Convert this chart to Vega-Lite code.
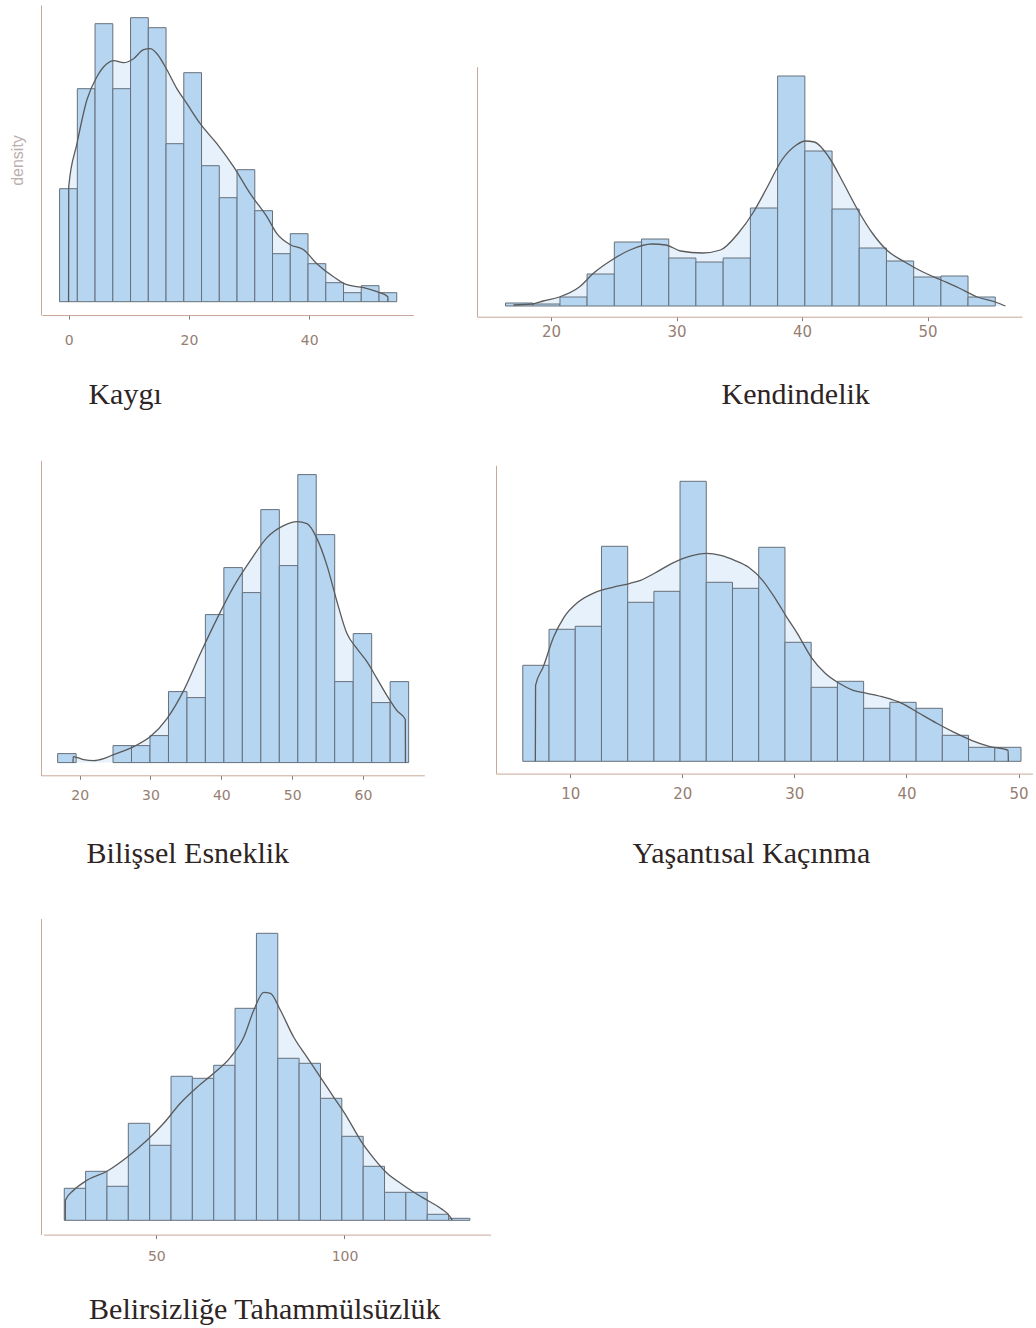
{
  "$schema": "https://vega.github.io/schema/vega-lite/v6.json",
  "background": "white",
  "padding": {"left": 9, "top": 5, "right": 0, "bottom": 0},
  "config": {
    "view": {"stroke": null},
    "axis": {"grid": false, "domainColor": "#c9a899", "domainWidth": 1, "tickColor": "#8c7b72", "tickSize": 4, "labelColor": "#967e72", "labelFont": "DejaVu Sans", "labelFontSize": 14, "labelFlush": false, "labelOverlap": false, "titleFont": "Liberation Serif", "titleFontSize": 30, "titleFontWeight": "normal", "titleColor": "#2e2424"}
  },
  "datasets": {
    "b1": [
      {"x": -1.5, "xe": 1.45, "d": 0.113}, {"x": 1.45, "xe": 4.4, "d": 0.213}, {"x": 4.4, "xe": 7.35, "d": 0.278}, {"x": 7.35, "xe": 10.3, "d": 0.213}, {"x": 10.3, "xe": 13.25, "d": 0.284}, {"x": 13.25, "xe": 16.2, "d": 0.274}, {"x": 16.2, "xe": 19.15, "d": 0.158}, {"x": 19.15, "xe": 22.1, "d": 0.229}, {"x": 22.1, "xe": 25.05, "d": 0.136}, {"x": 25.05, "xe": 28.0, "d": 0.104}, {"x": 28.0, "xe": 30.95, "d": 0.132}, {"x": 30.95, "xe": 33.9, "d": 0.091}, {"x": 33.9, "xe": 36.85, "d": 0.048}, {"x": 36.85, "xe": 39.8, "d": 0.068}, {"x": 39.8, "xe": 42.75, "d": 0.038}, {"x": 42.75, "xe": 45.7, "d": 0.019}, {"x": 45.7, "xe": 48.65, "d": 0.009}, {"x": 48.65, "xe": 51.6, "d": 0.016}, {"x": 51.6, "xe": 54.55, "d": 0.009}
    ],
    "c1": [
      {"x": 0, "d": 0}, {"x": 0.02, "d": 0.115}, {"x": 1.39, "d": 0.158}, {"x": 3.05, "d": 0.202}, {"x": 4.71, "d": 0.225}, {"x": 6.37, "d": 0.238}, {"x": 7.48, "d": 0.241}, {"x": 9.14, "d": 0.239}, {"x": 10.8, "d": 0.243}, {"x": 12.47, "d": 0.252}, {"x": 13.57, "d": 0.253}, {"x": 14.68, "d": 0.248}, {"x": 16.34, "d": 0.232}, {"x": 18.0, "d": 0.213}, {"x": 19.67, "d": 0.198}, {"x": 21.88, "d": 0.178}, {"x": 24.65, "d": 0.158}, {"x": 27.42, "d": 0.135}, {"x": 30.19, "d": 0.108}, {"x": 32.96, "d": 0.085}, {"x": 34.63, "d": 0.068}, {"x": 36.84, "d": 0.057}, {"x": 39.06, "d": 0.052}, {"x": 41.27, "d": 0.038}, {"x": 44.04, "d": 0.025}, {"x": 46.26, "d": 0.017}, {"x": 49.03, "d": 0.014}, {"x": 51.25, "d": 0.010}, {"x": 53.07, "d": 0.005}, {"x": 53.09, "d": 0}
    ],
    "b2": [
      {"x": 16.37, "xe": 18.54, "d": 0.003}, {"x": 18.54, "xe": 20.71, "d": 0.002}, {"x": 20.71, "xe": 22.87, "d": 0.009}, {"x": 22.87, "xe": 25.04, "d": 0.032}, {"x": 25.04, "xe": 27.21, "d": 0.064}, {"x": 27.21, "xe": 29.38, "d": 0.067}, {"x": 29.38, "xe": 31.54, "d": 0.048}, {"x": 31.54, "xe": 33.71, "d": 0.044}, {"x": 33.71, "xe": 35.88, "d": 0.048}, {"x": 35.88, "xe": 38.05, "d": 0.098}, {"x": 38.05, "xe": 40.22, "d": 0.230}, {"x": 40.22, "xe": 42.39, "d": 0.155}, {"x": 42.39, "xe": 44.55, "d": 0.097}, {"x": 44.55, "xe": 46.72, "d": 0.058}, {"x": 46.72, "xe": 48.89, "d": 0.045}, {"x": 48.89, "xe": 51.06, "d": 0.029}, {"x": 51.06, "xe": 53.22, "d": 0.030}, {"x": 53.22, "xe": 55.39, "d": 0.009}
    ],
    "c2": [
      {"x": 17.0, "d": 0.001}, {"x": 18.5, "d": 0.002}, {"x": 19.37, "d": 0.005}, {"x": 20.66, "d": 0.009}, {"x": 22.25, "d": 0.019}, {"x": 23.4, "d": 0.033}, {"x": 24.84, "d": 0.046}, {"x": 26.28, "d": 0.056}, {"x": 28.01, "d": 0.062}, {"x": 29.16, "d": 0.061}, {"x": 30.32, "d": 0.055}, {"x": 32.05, "d": 0.053}, {"x": 33.49, "d": 0.056}, {"x": 34.93, "d": 0.073}, {"x": 36.08, "d": 0.093}, {"x": 37.23, "d": 0.119}, {"x": 38.39, "d": 0.146}, {"x": 39.54, "d": 0.161}, {"x": 40.26, "d": 0.165}, {"x": 40.98, "d": 0.164}, {"x": 42.13, "d": 0.149}, {"x": 43.29, "d": 0.123}, {"x": 44.44, "d": 0.096}, {"x": 45.59, "d": 0.073}, {"x": 46.74, "d": 0.056}, {"x": 48.18, "d": 0.044}, {"x": 49.63, "d": 0.034}, {"x": 51.07, "d": 0.026}, {"x": 52.5, "d": 0.018}, {"x": 53.95, "d": 0.009}, {"x": 55.39, "d": 0.004}, {"x": 56.2, "d": 0}
    ],
    "b3": [
      {"x": 16.89, "xe": 19.5, "d": 0.009}, {"x": 24.71, "xe": 27.32, "d": 0.017}, {"x": 27.32, "xe": 29.93, "d": 0.017}, {"x": 29.93, "xe": 32.54, "d": 0.027}, {"x": 32.54, "xe": 35.15, "d": 0.071}, {"x": 35.15, "xe": 37.75, "d": 0.065}, {"x": 37.75, "xe": 40.36, "d": 0.148}, {"x": 40.36, "xe": 42.97, "d": 0.195}, {"x": 42.97, "xe": 45.58, "d": 0.170}, {"x": 45.58, "xe": 48.19, "d": 0.253}, {"x": 48.19, "xe": 50.8, "d": 0.197}, {"x": 50.8, "xe": 53.4, "d": 0.288}, {"x": 53.4, "xe": 56.01, "d": 0.228}, {"x": 56.01, "xe": 58.62, "d": 0.081}, {"x": 58.62, "xe": 61.23, "d": 0.129}, {"x": 61.23, "xe": 63.84, "d": 0.060}, {"x": 63.84, "xe": 66.45, "d": 0.081}
    ],
    "c3": [
      {"x": 19.06, "d": 0}, {"x": 19.08, "d": 0.006}, {"x": 20.56, "d": 0.003}, {"x": 21.98, "d": 0.002}, {"x": 23.39, "d": 0.004}, {"x": 24.8, "d": 0.008}, {"x": 27.62, "d": 0.016}, {"x": 29.98, "d": 0.026}, {"x": 32.33, "d": 0.044}, {"x": 34.68, "d": 0.072}, {"x": 37.04, "d": 0.109}, {"x": 39.39, "d": 0.144}, {"x": 41.74, "d": 0.176}, {"x": 44.09, "d": 0.202}, {"x": 46.45, "d": 0.225}, {"x": 48.8, "d": 0.237}, {"x": 50.68, "d": 0.241}, {"x": 52.09, "d": 0.239}, {"x": 53.51, "d": 0.224}, {"x": 54.92, "d": 0.197}, {"x": 56.33, "d": 0.161}, {"x": 57.74, "d": 0.129}, {"x": 59.15, "d": 0.114}, {"x": 60.56, "d": 0.101}, {"x": 61.98, "d": 0.084}, {"x": 63.39, "d": 0.067}, {"x": 64.8, "d": 0.052}, {"x": 65.98, "d": 0.043}, {"x": 66.0, "d": 0}
    ],
    "b4": [
      {"x": 5.77, "xe": 8.11, "d": 0.096}, {"x": 8.11, "xe": 10.45, "d": 0.132}, {"x": 10.45, "xe": 12.79, "d": 0.135}, {"x": 12.79, "xe": 15.13, "d": 0.215}, {"x": 15.13, "xe": 17.47, "d": 0.159}, {"x": 17.47, "xe": 19.8, "d": 0.170}, {"x": 19.8, "xe": 22.14, "d": 0.280}, {"x": 22.14, "xe": 24.48, "d": 0.179}, {"x": 24.48, "xe": 26.82, "d": 0.173}, {"x": 26.82, "xe": 29.16, "d": 0.214}, {"x": 29.16, "xe": 31.5, "d": 0.119}, {"x": 31.5, "xe": 33.84, "d": 0.074}, {"x": 33.84, "xe": 36.18, "d": 0.080}, {"x": 36.18, "xe": 38.52, "d": 0.053}, {"x": 38.52, "xe": 40.86, "d": 0.059}, {"x": 40.86, "xe": 43.2, "d": 0.053}, {"x": 43.2, "xe": 45.54, "d": 0.026}, {"x": 45.54, "xe": 47.88, "d": 0.014}, {"x": 47.88, "xe": 50.22, "d": 0.014}
    ],
    "c4": [
      {"x": 6.89, "d": 0}, {"x": 6.91, "d": 0.076}, {"x": 7.58, "d": 0.094}, {"x": 8.51, "d": 0.124}, {"x": 9.44, "d": 0.144}, {"x": 10.68, "d": 0.159}, {"x": 12.24, "d": 0.169}, {"x": 13.79, "d": 0.174}, {"x": 15.35, "d": 0.178}, {"x": 16.28, "d": 0.181}, {"x": 17.52, "d": 0.188}, {"x": 19.08, "d": 0.198}, {"x": 20.63, "d": 0.205}, {"x": 22.19, "d": 0.208}, {"x": 23.43, "d": 0.206}, {"x": 24.67, "d": 0.201}, {"x": 25.92, "d": 0.194}, {"x": 27.16, "d": 0.181}, {"x": 28.4, "d": 0.161}, {"x": 29.33, "d": 0.144}, {"x": 30.26, "d": 0.128}, {"x": 31.51, "d": 0.104}, {"x": 32.75, "d": 0.088}, {"x": 33.99, "d": 0.078}, {"x": 35.24, "d": 0.071}, {"x": 36.48, "d": 0.068}, {"x": 38.03, "d": 0.064}, {"x": 39.59, "d": 0.058}, {"x": 41.14, "d": 0.048}, {"x": 42.7, "d": 0.038}, {"x": 44.25, "d": 0.029}, {"x": 45.8, "d": 0.021}, {"x": 47.36, "d": 0.015}, {"x": 49.07, "d": 0.011}, {"x": 49.09, "d": 0}
    ],
    "b5": [
      {"x": 25.53, "xe": 31.2, "d": 0.032}, {"x": 31.2, "xe": 36.88, "d": 0.049}, {"x": 36.88, "xe": 42.55, "d": 0.034}, {"x": 42.55, "xe": 48.23, "d": 0.097}, {"x": 48.23, "xe": 53.9, "d": 0.075}, {"x": 53.9, "xe": 59.57, "d": 0.144}, {"x": 59.57, "xe": 65.25, "d": 0.142}, {"x": 65.25, "xe": 70.92, "d": 0.155}, {"x": 70.92, "xe": 76.6, "d": 0.212}, {"x": 76.6, "xe": 82.27, "d": 0.287}, {"x": 82.27, "xe": 87.94, "d": 0.162}, {"x": 87.94, "xe": 93.62, "d": 0.157}, {"x": 93.62, "xe": 99.29, "d": 0.122}, {"x": 99.29, "xe": 104.97, "d": 0.084}, {"x": 104.97, "xe": 110.64, "d": 0.054}, {"x": 110.64, "xe": 116.31, "d": 0.028}, {"x": 116.31, "xe": 121.99, "d": 0.028}, {"x": 121.99, "xe": 127.66, "d": 0.006}, {"x": 127.66, "xe": 133.33, "d": 0.002}
    ],
    "c5": [
      {"x": 25.8, "d": 0}, {"x": 25.82, "d": 0.020}, {"x": 28.01, "d": 0.030}, {"x": 31.56, "d": 0.040}, {"x": 36.88, "d": 0.049}, {"x": 42.2, "d": 0.063}, {"x": 47.52, "d": 0.080}, {"x": 51.95, "d": 0.097}, {"x": 56.38, "d": 0.117}, {"x": 60.82, "d": 0.133}, {"x": 65.25, "d": 0.147}, {"x": 69.68, "d": 0.163}, {"x": 73.23, "d": 0.183}, {"x": 75.89, "d": 0.210}, {"x": 78.55, "d": 0.228}, {"x": 80.32, "d": 0.227}, {"x": 82.98, "d": 0.210}, {"x": 86.52, "d": 0.183}, {"x": 90.07, "d": 0.163}, {"x": 93.62, "d": 0.143}, {"x": 97.16, "d": 0.123}, {"x": 100.71, "d": 0.103}, {"x": 104.26, "d": 0.080}, {"x": 107.8, "d": 0.062}, {"x": 111.35, "d": 0.047}, {"x": 114.89, "d": 0.037}, {"x": 118.44, "d": 0.028}, {"x": 121.99, "d": 0.020}, {"x": 125.53, "d": 0.012}, {"x": 128.37, "d": 0.002}, {"x": 128.6, "d": 0}
    ]
  },
  "columns": 2,
  "align": "each",
  "bounds": "flush",
  "spacing": {"row": 143.3, "column": 0},
  "concat": [
    {
      "width": 435.3, "height": 310,
      "encoding": {
        "x": {"field": "x", "type": "quantitative", "scale": {"domain": [-4.42, 57.3], "range": [1, 372.3], "nice": false, "zero": false}, "axis": {"values": [0, 20, 40], "labelPadding": 14, "title": "Kaygı", "titleX": 46.9, "titleY": 88.3, "titleAlign": "left", "titleBaseline": "alphabetic"}},
        "y": {"field": "d", "type": "quantitative", "scale": {"domain": [-0.0133, 0.2967], "nice": false, "zero": false}, "axis": {"ticks": false, "labels": false, "title": "density", "titleFont": "Liberation Sans", "titleFontSize": 16, "titleColor": "#bcaeae", "titlePadding": 16}}
      },
      "layer": [
        {"data": {"name": "c1"}, "mark": {"type": "area", "color": "#e6f1fb", "interpolate": "monotone"}, "encoding": {"y2": {"datum": 0}}},
        {"data": {"name": "b1"}, "mark": {"type": "rect", "fill": "#b6d5f1", "stroke": "#66707b", "strokeWidth": 1}, "encoding": {"x2": {"field": "xe"}, "y2": {"datum": 0}}},
        {"data": {"name": "c1"}, "mark": {"type": "line", "color": "#5a5a5a", "strokeWidth": 1.3, "interpolate": "monotone"}, "encoding": {}}
      ]
    },
    {
      "width": 545, "height": 311.7,
      "encoding": {
        "x": {"field": "x", "type": "quantitative", "scale": {"domain": [14.1, 57.52], "nice": false, "zero": false}, "axis": {"values": [20, 30, 40, 50], "labelPadding": 4, "labelFontSize": 15, "title": "Kendindelik", "titleX": 244, "titleY": 86.6, "titleAlign": "left", "titleBaseline": "alphabetic"}},
        "y": {"field": "d", "type": "quantitative", "scale": {"domain": [-0.0107, 0.2393], "range": [311.7, 61.7], "nice": false, "zero": false}, "axis": {"ticks": false, "labels": false, "title": null}}
      },
      "layer": [
        {"data": {"name": "c2"}, "mark": {"type": "area", "color": "#e6f1fb", "interpolate": "monotone"}, "encoding": {"y2": {"datum": 0}}},
        {"data": {"name": "b2"}, "mark": {"type": "rect", "fill": "#b6d5f1", "stroke": "#66707b", "strokeWidth": 1}, "encoding": {"x2": {"field": "xe"}, "y2": {"datum": 0}}},
        {"data": {"name": "c2"}, "mark": {"type": "line", "color": "#5a5a5a", "strokeWidth": 1.3, "interpolate": "monotone"}, "encoding": {}}
      ]
    },
    {
      "width": 383.3, "height": 315,
      "encoding": {
        "x": {"field": "x", "type": "quantitative", "scale": {"domain": [14.54, 68.66], "nice": false, "zero": false}, "axis": {"values": [20, 30, 40, 50, 60], "labelPadding": 9, "title": "Bilişsel Esneklik", "titleX": 45.1, "titleY": 86.7, "titleAlign": "left", "titleBaseline": "alphabetic"}},
        "y": {"field": "d", "type": "quantitative", "scale": {"domain": [-0.0127, 0.3023], "nice": false, "zero": false}, "axis": {"ticks": false, "labels": false, "title": null}}
      },
      "layer": [
        {"data": {"name": "c3"}, "mark": {"type": "area", "color": "#e6f1fb", "interpolate": "monotone"}, "encoding": {"y2": {"datum": 0}}},
        {"data": {"name": "b3"}, "mark": {"type": "rect", "fill": "#b6d5f1", "stroke": "#66707b", "strokeWidth": 1}, "encoding": {"x2": {"field": "xe"}, "y2": {"datum": 0}}},
        {"data": {"name": "c3"}, "mark": {"type": "line", "color": "#5a5a5a", "strokeWidth": 1.3, "interpolate": "monotone"}, "encoding": {}}
      ]
    },
    {
      "width": 556, "height": 313.3,
      "encoding": {
        "x": {"field": "x", "type": "quantitative", "scale": {"domain": [3.38, 51.29], "range": [19, 556], "nice": false, "zero": false}, "axis": {"values": [10, 20, 30, 40, 50], "labelPadding": 9, "labelFontSize": 15, "title": "Yaşantısal Kaçınma", "titleX": 155, "titleY": 88.4, "titleAlign": "left", "titleBaseline": "alphabetic"}},
        "y": {"field": "d", "type": "quantitative", "scale": {"domain": [-0.0123, 0.296], "range": [313.3, 5], "nice": false, "zero": false}, "axis": {"ticks": false, "labels": false, "title": null, "offset": -19}}
      },
      "layer": [
        {"data": {"name": "c4"}, "mark": {"type": "area", "color": "#e6f1fb", "interpolate": "monotone"}, "encoding": {"y2": {"datum": 0}}},
        {"data": {"name": "b4"}, "mark": {"type": "rect", "fill": "#b6d5f1", "stroke": "#66707b", "strokeWidth": 1}, "encoding": {"x2": {"field": "xe"}, "y2": {"datum": 0}}},
        {"data": {"name": "c4"}, "mark": {"type": "line", "color": "#5a5a5a", "strokeWidth": 1.3, "interpolate": "monotone"}, "encoding": {}}
      ]
    },
    {
      "width": 435.3, "height": 316,
      "encoding": {
        "x": {"field": "x", "type": "quantitative", "scale": {"domain": [20.04, 138.83], "range": [2.6, 449.6], "nice": false, "zero": false}, "axis": {"values": [50, 100], "labelPadding": 11, "title": "Belirsizliğe Tahammülsüzlük", "titleX": 47.6, "titleY": 84, "titleAlign": "left", "titleBaseline": "alphabetic"}},
        "y": {"field": "d", "type": "quantitative", "scale": {"domain": [-0.0143, 0.3017], "nice": false, "zero": false}, "axis": {"ticks": false, "labels": false, "title": null}}
      },
      "layer": [
        {"data": {"name": "c5"}, "mark": {"type": "area", "color": "#e6f1fb", "interpolate": "monotone"}, "encoding": {"y2": {"datum": 0}}},
        {"data": {"name": "b5"}, "mark": {"type": "rect", "fill": "#b6d5f1", "stroke": "#66707b", "strokeWidth": 1}, "encoding": {"x2": {"field": "xe"}, "y2": {"datum": 0}}},
        {"data": {"name": "c5"}, "mark": {"type": "line", "color": "#5a5a5a", "strokeWidth": 1.3, "interpolate": "monotone"}, "encoding": {}}
      ]
    }
  ]
}
